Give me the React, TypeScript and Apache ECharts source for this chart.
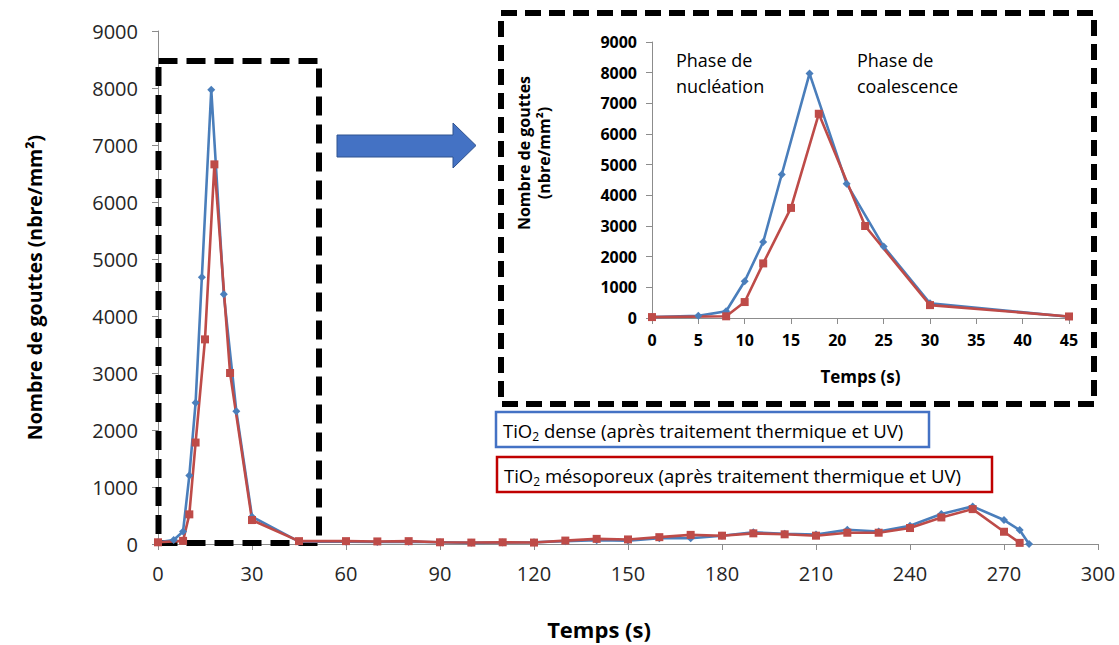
import React, { useEffect, useRef } from "react";
import * as echarts from "echarts";

const denseTime = [0, 5, 8, 10, 12, 14, 17, 21, 25, 30, 45, 60, 70, 80, 90, 100, 110, 120, 130, 140, 150, 160, 170, 180, 190, 200, 210, 220, 230, 240, 250, 260, 270, 275, 278];
const denseValue = [30, 70, 220, 1200, 2480, 4680, 7970, 4380, 2330, 480, 40, 40, 35, 40, 30, 20, 25, 30, 50, 65, 60, 100, 100, 145, 205, 180, 165, 250, 220, 320, 525, 660, 420, 245, 0];
const mesoTime = [0, 8, 10, 12, 15, 18, 23, 30, 45, 60, 70, 80, 90, 100, 110, 120, 130, 140, 150, 160, 170, 180, 190, 200, 210, 220, 230, 240, 250, 260, 270, 275];
const mesoValue = [30, 55, 520, 1780, 3590, 6660, 3000, 420, 50, 50, 45, 50, 30, 25, 30, 25, 60, 90, 80, 120, 160, 146, 187, 170, 146, 198, 198, 280, 466, 612, 215, 20];

const denseLabel = "dense (après traitement thermique et UV)";
const mesoLabel = "mésoporeux (après traitement thermique et UV)";
const insetMax = 45;

const BLUE = "#4A7EBB";
const RED = "#BE4B48";
const FONT = "Open Sans";

function pairs(t: number[], v: number[], maxT = Infinity) {
  const out: number[][] = [];
  for (let i = 0; i < t.length; i++) if (t[i] <= maxT) out.push([t[i], v[i]]);
  return out;
}

const plain = (v: number) => String(v);

export default function App() {
  const ref = useRef<HTMLDivElement>(null);
  useEffect(() => {
    document.body.style.margin = "0";
    const chart = echarts.init(ref.current!, undefined, { renderer: "svg" });
    const axisLine = { show: true, lineStyle: { color: "#8C8C8C", width: 1 } };
    const tick = { show: true, inside: false, length: 6, lineStyle: { color: "#8C8C8C" } };
    const lineSeries = (name: string, data: number[][], color: string, symbol: string, size: number, xi: number) => ({
      name,
      type: "line",
      xAxisIndex: xi,
      yAxisIndex: xi,
      data,
      symbol,
      symbolSize: size,
      showSymbol: true,
      lineStyle: { color, width: 2.6 },
      itemStyle: { color },
      z: 5,
    });
    chart.setOption({
      animation: false,
      backgroundColor: "#ffffff",
      textStyle: { fontFamily: FONT },
      grid: [
        { left: 158, right: 21, top: 31, bottom: 100 },
        { left: 652, right: 50, top: 42, bottom: 327 },
      ],
      xAxis: [
        {
          type: "value", gridIndex: 0, min: 0, max: 300, interval: 30,
          axisLine, axisTick: tick, splitLine: { show: false },
          axisLabel: { fontSize: 20, color: "#262626", margin: 19, fontFamily: FONT, formatter: plain },
          name: "Temps (s)", nameLocation: "middle", nameGap: 74,
          nameTextStyle: { fontSize: 22, fontWeight: "bold", color: "#000", fontFamily: FONT, padding: [0, 58, 0, 0] },
        },
        {
          type: "value", gridIndex: 1, min: 0, max: insetMax, interval: 5,
          axisLine, axisTick: tick, splitLine: { show: false },
          axisLabel: { fontSize: 16, fontWeight: "bold", color: "#000", margin: 14, fontFamily: FONT, formatter: plain },
          name: "Temps (s)", nameLocation: "middle", nameGap: 50,
          nameTextStyle: { fontSize: 17, fontWeight: "bold", color: "#000", fontFamily: FONT },
        },
      ],
      yAxis: [
        {
          type: "value", gridIndex: 0, min: 0, max: 9000, interval: 1000,
          axisLine, axisTick: tick, splitLine: { show: false },
          axisLabel: { fontSize: 20, color: "#262626", margin: 20, fontFamily: FONT, formatter: plain },
          name: "Nombre de gouttes (nbre/mm²)", nameLocation: "middle", nameGap: 114, nameRotate: 90,
          nameTextStyle: { fontSize: 19.5, fontWeight: "bold", color: "#000", fontFamily: FONT },
        },
        {
          type: "value", gridIndex: 1, min: 0, max: 9000, interval: 1000,
          axisLine, axisTick: tick, splitLine: { show: false },
          axisLabel: { fontSize: 16, fontWeight: "bold", color: "#000", margin: 15, fontFamily: FONT, formatter: plain },
        },
      ],
      series: [
        lineSeries("TiO2 " + denseLabel, pairs(denseTime, denseValue), BLUE, "diamond", 8, 0),
        lineSeries("TiO2 " + mesoLabel, pairs(mesoTime, mesoValue), RED, "rect", 8, 0),
        lineSeries("TiO2 " + denseLabel + " (zoom)", pairs(denseTime, denseValue, insetMax), BLUE, "diamond", 8, 1),
        lineSeries("TiO2 " + mesoLabel + " (zoom)", pairs(mesoTime, mesoValue, insetMax), RED, "rect", 8, 1),
      ],
      graphic: [
        {
          type: "rect", z: 1,
          shape: { x: 158.5, y: 61, width: 160.5, height: 482 },
          style: { fill: "none", stroke: "#000", lineWidth: 6, lineDash: [19, 9] },
        },
        {
          type: "rect", z: 1,
          shape: { x: 501, y: 13, width: 593, height: 391 },
          style: { fill: "none", stroke: "#000", lineWidth: 6, lineDash: [16, 8] },
        },
        {
          type: "polygon", z: 1,
          shape: { points: [[337, 135], [453, 135], [453, 123], [476, 145.5], [453, 168], [453, 157], [337, 157]] },
          style: { fill: "#4472C4", stroke: "#2F528F", lineWidth: 1 },
        },
        {
          type: "text", z: 10, x: 676, y: 47,
          style: { text: "Phase de\nnucléation", font: `18px "${FONT}"`, fill: "#000", lineHeight: 26, verticalAlign: "top" },
        },
        {
          type: "text", z: 10, x: 857, y: 47,
          style: { text: "Phase de\ncoalescence", font: `18px "${FONT}"`, fill: "#000", lineHeight: 26, verticalAlign: "top" },
        },
        {
          type: "text", z: 10, x: 534, y: 153, rotation: Math.PI / 2,
          style: {
            text: "Nombre de gouttes\n(nbre/mm²)", font: `bold 16px "${FONT}"`, fill: "#000",
            lineHeight: 20, align: "center", verticalAlign: "middle",
          },
        },
        {
          type: "rect", z: 10,
          shape: { x: 496, y: 412, width: 433, height: 35 },
          style: { fill: "#fff", stroke: "#4472C4", lineWidth: 2.5 },
        },
        {
          type: "text", z: 11, x: 503, y: 430,
          style: {
            text: "{m|TiO}{s|2}{m| " + denseLabel + "}",
            verticalAlign: "middle",
            rich: {
              m: { fontFamily: FONT, fontSize: 18.5, fill: "#000", lineHeight: 24 },
              s: { fontFamily: FONT, fontSize: 12, fill: "#000", lineHeight: 14, verticalAlign: "bottom" },
            },
          },
        },
        {
          type: "rect", z: 10,
          shape: { x: 497, y: 457, width: 495, height: 35 },
          style: { fill: "#fff", stroke: "#C00000", lineWidth: 2.5 },
        },
        {
          type: "text", z: 11, x: 504, y: 475,
          style: {
            text: "{m|TiO}{s|2}{m| " + mesoLabel + "}",
            verticalAlign: "middle",
            rich: {
              m: { fontFamily: FONT, fontSize: 18.5, fill: "#000", lineHeight: 24 },
              s: { fontFamily: FONT, fontSize: 12, fill: "#000", lineHeight: 14, verticalAlign: "bottom" },
            },
          },
        },
      ],
    });
    return () => chart.dispose();
  }, []);
  return <div ref={ref} style={{ width: 1119, height: 645 }} />;
}
